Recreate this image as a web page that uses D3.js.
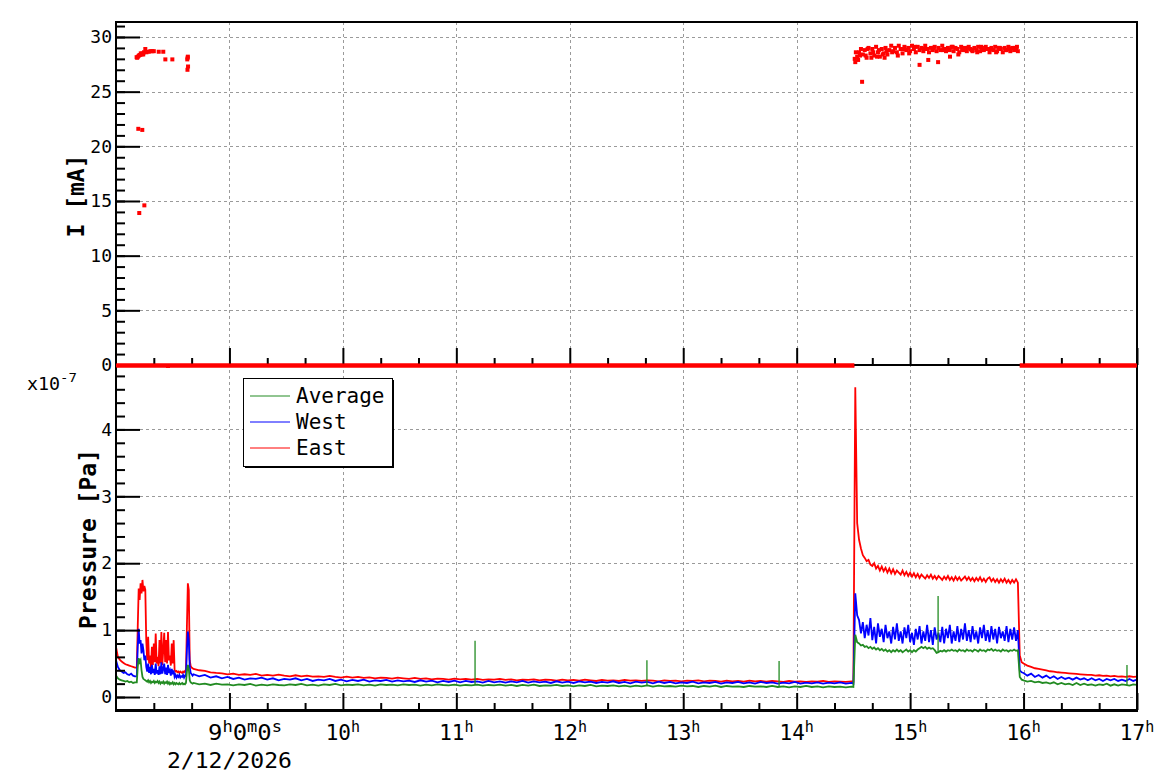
<!DOCTYPE html>
<html><head><meta charset="utf-8">
<script src="https://cdn.jsdelivr.net/npm/d3@7"></script>
<style>body{margin:0;background:#fff}svg{display:block}text{font-family:"DejaVu Sans Mono",monospace}</style>
</head><body><svg id="c" width="1158" height="782"></svg>
<script>
// ---------------- DATA ----------------
const dateLabel = "2/12/2026";
const hourTicks = [9, 10, 11, 12, 13, 14, 15, 16, 17];
const currentTicks = [0, 5, 10, 15, 20, 25, 30];
const pressureTicks = [0, 1, 2, 3, 4];
const seriesNames = ["Average", "West", "East"];

// sampling segments, minutes after 08:00 : start, step, count
const segStart = [0, 11, 41, 390, 480];
const segStep = [1, 0.5, 3, 1, 2];
const segCount = [11, 60, 117, 90, 31];

// pressures in units of 1e-7 Pa
const eastP = [
0.75,0.60,0.56,0.53,0.51,0.49,0.48,0.47,0.46,0.45,0.44,
0.44,1.05,1.62,1.45,1.70,1.55,1.75,1.58,1.66,1.60,
0.85,0.55,0.90,0.50,0.62,0.45,0.75,0.48,0.80,0.52,
0.95,0.50,0.60,0.46,0.85,0.50,0.97,0.48,0.70,0.96,
0.52,0.85,0.50,0.97,0.55,0.62,0.47,0.80,0.50,0.85,
0.40,0.38,0.39,0.37,0.38,0.36,0.38,0.37,0.36,0.38,
0.37,0.39,0.38,1.05,1.70,1.60,0.55,0.46,0.44,0.43,
0.42,0.40,0.39,0.37,0.36,0.355,0.34,0.35,0.33,0.34,
0.33,0.345,0.32,0.33,0.32,0.335,0.32,0.31,0.325,0.31,
0.32,0.305,0.31,0.30,0.315,0.30,0.29,0.305,0.29,0.30,
0.285,0.295,0.28,0.29,0.285,0.275,0.29,0.28,0.27,0.285,
0.27,0.28,0.265,0.275,0.27,0.26,0.275,0.265,0.27,0.26,
0.27,0.255,0.265,0.26,0.27,0.255,0.265,0.25,0.26,0.255,
0.265,0.25,0.26,0.255,0.245,0.26,0.25,0.255,0.245,0.26,
0.25,0.24,0.255,0.245,0.25,0.24,0.255,0.245,0.25,0.24,
0.25,0.245,0.235,0.25,0.24,0.245,0.235,0.245,0.24,0.25,
0.235,0.245,0.24,0.23,0.245,0.235,0.24,0.23,0.245,0.235,
0.24,0.23,0.24,0.235,0.225,0.24,0.23,0.235,0.225,0.235,
0.23,0.24,0.225,0.235,0.23,0.225,0.235,
0.23,4.63,2.60,2.35,2.22,2.12,2.08,2.03,2.05,1.98,
1.96,2.00,1.92,1.96,1.89,1.95,1.88,1.93,1.86,1.92,
1.85,1.91,1.84,1.89,1.86,1.83,1.89,1.82,1.87,1.81,
1.86,1.80,1.85,1.79,1.84,1.78,1.83,1.80,1.77,1.82,
1.78,1.83,1.77,1.81,1.76,1.81,1.78,1.75,1.80,1.76,
1.81,1.75,1.79,1.74,1.80,1.75,1.79,1.74,1.77,1.80,
1.75,1.79,1.74,1.78,1.73,1.78,1.74,1.79,1.73,1.77,
1.72,1.77,1.79,1.73,1.77,1.72,1.76,1.71,1.76,1.72,
1.77,1.71,1.75,1.70,1.75,1.71,1.76,1.71,0.62,0.52,
0.50,0.47,0.45,0.43,0.42,0.41,0.40,0.385,0.38,0.37,
0.365,0.36,0.355,0.35,0.345,0.34,0.335,0.33,0.33,0.32,
0.325,0.315,0.32,0.31,0.315,0.305,0.31,0.30,0.31,0.30,0.305
];
const westP = [
0.55,0.45,0.40,0.38,0.36,0.37,0.34,0.33,0.35,0.32,0.31,
0.31,0.75,1.02,0.80,0.85,0.65,0.80,0.70,0.55,0.62,
0.45,0.38,0.50,0.36,0.45,0.34,0.48,0.36,0.42,0.33,
0.50,0.35,0.40,0.33,0.46,0.34,0.52,0.35,0.42,0.50,
0.34,0.44,0.33,0.48,0.36,0.40,0.32,0.42,0.34,0.40,
0.30,0.33,0.29,0.32,0.30,0.33,0.29,0.31,0.30,0.33,
0.29,0.32,0.31,0.70,0.98,0.85,0.45,0.36,0.34,0.32,
0.34,0.31,0.33,0.29,0.31,0.28,0.30,0.27,0.29,0.26,
0.28,0.27,0.29,0.26,0.28,0.25,0.27,0.26,0.28,0.25,
0.27,0.24,0.26,0.25,0.27,0.24,0.26,0.235,0.255,0.24,
0.26,0.23,0.25,0.24,0.255,0.23,0.25,0.235,0.245,0.225,
0.25,0.23,0.245,0.22,0.24,0.225,0.245,0.22,0.24,0.225,
0.235,0.215,0.24,0.22,0.235,0.215,0.235,0.22,0.24,0.215,
0.235,0.22,0.23,0.21,0.235,0.215,0.23,0.21,0.235,0.22,
0.23,0.21,0.225,0.215,0.235,0.21,0.225,0.205,0.23,0.215,
0.225,0.205,0.23,0.21,0.225,0.205,0.22,0.21,0.23,0.205,
0.22,0.21,0.225,0.20,0.22,0.21,0.225,0.205,0.22,0.20,
0.225,0.21,0.22,0.20,0.215,0.205,0.225,0.20,0.215,0.205,
0.22,0.20,0.215,0.205,0.22,0.20,0.21,
0.20,1.55,1.22,1.15,0.95,1.12,0.88,1.08,0.92,1.18,
0.85,1.05,0.80,1.10,0.90,1.02,0.82,1.08,0.88,0.98,
0.80,1.05,0.86,1.10,0.84,0.98,0.80,1.04,0.88,1.08,
0.82,0.96,0.78,1.02,0.86,1.06,0.80,0.98,0.84,1.08,
0.82,1.00,0.78,1.04,0.86,0.96,0.82,1.05,0.80,1.02,
0.88,1.08,0.80,0.98,0.84,1.06,0.82,1.02,0.86,1.10,
0.84,1.00,0.82,1.06,0.86,0.98,0.80,1.04,0.88,1.08,
0.84,1.00,0.82,1.06,0.86,1.02,0.80,1.05,0.88,0.98,
0.84,1.06,0.82,1.02,0.86,1.04,0.84,1.00,0.40,0.37,
0.36,0.32,0.35,0.30,0.33,0.29,0.32,0.28,0.31,0.27,
0.30,0.27,0.29,0.26,0.29,0.26,0.28,0.25,0.28,0.25,
0.27,0.24,0.27,0.25,0.27,0.24,0.26,0.24,0.27,0.24,0.26
];
const avgP = [
0.32,0.28,0.26,0.25,0.24,0.23,0.24,0.22,0.23,0.21,0.22,
0.22,0.45,0.58,0.52,0.55,0.40,0.30,0.27,0.26,0.25,
0.24,0.23,0.25,0.22,0.24,0.21,0.23,0.22,0.24,0.21,
0.23,0.22,0.24,0.21,0.23,0.20,0.22,0.21,0.23,0.20,
0.22,0.21,0.23,0.20,0.22,0.19,0.21,0.20,0.22,0.19,
0.21,0.19,0.21,0.20,0.19,0.21,0.19,0.20,0.21,0.19,
0.20,0.19,0.21,0.38,0.48,0.42,0.25,0.22,0.21,0.20,
0.21,0.19,0.20,0.18,0.20,0.185,0.19,0.175,0.19,0.18,
0.195,0.17,0.185,0.175,0.19,0.18,0.175,0.19,0.18,0.195,
0.175,0.185,0.17,0.19,0.18,0.195,0.175,0.185,0.18,0.19,
0.175,0.185,0.17,0.19,0.18,0.185,0.175,0.19,0.18,0.185,
0.17,0.185,0.175,0.19,0.18,0.175,0.185,0.17,0.18,0.175,
0.185,0.17,0.18,0.175,0.185,0.17,0.18,0.165,0.18,0.17,
0.185,0.165,0.175,0.17,0.18,0.165,0.175,0.16,0.175,0.165,
0.18,0.16,0.17,0.165,0.175,0.16,0.17,0.155,0.17,0.16,
0.175,0.155,0.17,0.16,0.165,0.155,0.17,0.16,0.165,0.15,
0.165,0.155,0.17,0.15,0.165,0.155,0.16,0.15,0.165,0.155,
0.16,0.15,0.165,0.15,0.16,0.145,0.16,0.15,0.165,0.15,
0.16,0.145,0.16,0.15,0.155,0.145,0.155,
0.15,0.93,0.82,0.80,0.77,0.78,0.75,0.76,0.73,0.75,
0.72,0.74,0.71,0.73,0.70,0.72,0.69,0.71,0.68,0.70,
0.67,0.70,0.68,0.71,0.68,0.70,0.67,0.69,0.71,0.68,
0.70,0.67,0.70,0.68,0.71,0.73,0.75,0.73,0.75,0.72,
0.74,0.72,0.73,0.70,0.66,0.67,0.69,0.68,0.70,0.68,
0.70,0.69,0.71,0.69,0.70,0.68,0.71,0.69,0.70,0.68,
0.71,0.69,0.70,0.68,0.71,0.70,0.68,0.71,0.69,0.70,
0.68,0.71,0.70,0.72,0.69,0.71,0.69,0.70,0.68,0.71,
0.69,0.70,0.68,0.70,0.69,0.71,0.69,0.70,0.30,0.26,
0.25,0.23,0.24,0.22,0.23,0.21,0.22,0.20,0.22,0.19,
0.21,0.19,0.20,0.18,0.21,0.18,0.20,0.18,0.19,0.17,
0.19,0.18,0.20,0.17,0.19,0.17,0.19,0.18,0.17,0.19,0.18
];
// single-sample spikes in the Average gauge: [minute, value]
const avgSpikes = [[189.9, 0.84], [280.8, 0.55], [350.7, 0.54], [434.8, 1.51], [534.7, 0.48]];

// beam current (mA)
const currentOnStart = 391; // one value per minute from here
const currentOnValues = [
27.7,28.2,28.6,28.9,28.4,28.8,28.1,29.0,28.5,28.9,
28.3,29.1,28.6,28.2,28.9,28.5,29.0,28.4,28.8,29.2,
28.7,29.0,28.6,29.2,28.9,28.5,29.1,28.8,29.0,28.7,
29.2,28.9,28.6,29.1,28.8,29.0,28.7,29.2,28.9,28.6,
29.0,28.8,29.1,28.7,29.0,28.8,29.2,28.9,28.7,29.0,
28.8,29.1,28.7,29.0,28.9,28.6,29.1,28.8,29.0,28.7,
29.1,28.9,28.7,29.0,28.8,29.1,28.7,29.0,28.8,29.1,
28.9,28.6,29.0,28.8,29.1,28.7,29.0,28.9,28.6,29.0,
28.8,29.1,28.7,29.0,28.8,28.9,28.7
];
const currentScatter = [
[10.9,28.15],[11.2,28.1],[11.8,21.6],[12.3,13.9],[11.6,28.2],[12.1,28.3],[12.6,28.35],
[13.1,28.5],[13.5,28.4],[13.9,21.5],[13.9,28.5],[14.4,28.4],[14.8,28.6],[15.0,14.6],
[15.5,28.9],[16.1,28.6],[17.3,28.65],[18.2,28.7],[19.2,28.7],[20.0,28.7],[22.6,28.65],
[25.0,28.65],[26.1,27.95],[29.8,27.95],[37.7,27.95],[37.8,27.0],[37.9,28.1],[38.0,28.2],
[38.1,27.3],[27.5,-0.2],
[390.7,28.0],[391.3,28.6],[392.5,27.9],[393.5,28.3],[394.6,25.9],[396.5,28.3],[397.5,28.9],
[399.5,28.1],[400.5,28.6],[402.5,28.2],[403.5,28.8],[405.5,28.4],[406.5,28.1],[407.5,28.7],
[410.5,28.6],[413.5,28.3],[416.5,28.9],[419.5,28.5],[425.0,27.45],[429.6,27.9],[434.8,27.7],
[441.1,28.2],[445.5,28.4],[450.5,29.0],[455.5,28.6],[460.5,28.9],[465.5,28.6],[470.5,28.8],[475.5,29.0],
[422.5,29.1],[427.5,28.9],[432.5,29.0],[437.5,28.8],[442.5,29.1],[447.5,28.9],[452.5,28.8],
[457.5,29.1],[462.5,28.9],[467.5,29.0],[472.5,28.9],[476.5,29.1]
];
// intervals (minutes) where the current read 0 mA
const currentOff = [[0, 390.5], [478, 540]];

// ---------------- CHART ----------------
const W = 1158, H = 782;
const L = 116, R = 1137, T1 = 22, B1 = 365, T2 = 365, B2 = 710;
const colors = {Average: "#228b22", West: "#0000ff", East: "#ff0000"};
const t0 = Date.UTC(2026, 1, 12, 8, 0, 0);
const toDate = m => new Date(t0 + m * 60000);

const x = d3.scaleUtc().domain([toDate(0), toDate(540)]).range([L, R]);
const yI = d3.scaleLinear().domain([0, 31.37]).range([B1, T1]);
const yP = d3.scaleLinear().domain([-0.194, 4.963]).range([B2, T2]);

// sample times
const times = [];
segStart.forEach((s, i) => { for (let k = 0; k < segCount[i]; k++) times.push(s + k * segStep[i]); });

const svg = d3.select("#c");
svg.append("rect").attr("width", W).attr("height", H).attr("fill", "#fff");

const defs = svg.append("defs");
defs.append("clipPath").attr("id", "clipTop").append("rect").attr("x", L).attr("y", T1).attr("width", R - L).attr("height", B1 - T1 + 3);
defs.append("clipPath").attr("id", "clipBot").append("rect").attr("x", L).attr("y", T2).attr("width", R - L).attr("height", B2 - T2);

const hourDates = hourTicks.map(h => toDate((h - 8) * 60));
const minorDates = d3.utcMinute.every(20).range(toDate(0), toDate(541)).filter(d => d.getUTCMinutes() !== 0);

// ---- grids
const grid = svg.append("g").attr("stroke", "#9a9a9a").attr("stroke-width", 1).attr("stroke-dasharray", "3,3").attr("fill", "none");
hourDates.filter(d => x(d) < R - 1).forEach(d => {
  grid.append("line").attr("x1", Math.round(x(d)) + 0.5).attr("x2", Math.round(x(d)) + 0.5).attr("y1", T1).attr("y2", B2);
});
currentTicks.filter(v => v > 0).forEach(v => {
  grid.append("line").attr("x1", L).attr("x2", R).attr("y1", Math.round(yI(v)) + 0.5).attr("y2", Math.round(yI(v)) + 0.5);
});
pressureTicks.forEach(v => {
  grid.append("line").attr("x1", L).attr("x2", R).attr("y1", Math.round(yP(v)) + 0.5).attr("y2", Math.round(yP(v)) + 0.5);
});

// ---- pressure series
const gp = svg.append("g").attr("clip-path", "url(#clipBot)");
const line = d3.line().x(d => x(toDate(d[0]))).y(d => yP(d[1]));
const series = {Average: avgP, West: westP, East: eastP};
["East", "West", "Average"].forEach(name => {
  const pts = times.map((t, i) => [t, series[name][i]]);
  gp.append("path").attr("d", line(pts)).attr("fill", "none")
    .attr("stroke", colors[name]).attr("stroke-width", 1.8).attr("stroke-linejoin", "miter");
});
avgSpikes.forEach(([t, v]) => {
  const i = d3.minIndex(times, tt => Math.abs(tt - t));
  gp.append("line").attr("x1", x(toDate(t))).attr("x2", x(toDate(t)))
    .attr("y1", yP(avgP[i])).attr("y2", yP(v)).attr("stroke", colors.Average).attr("stroke-width", 1.3);
});

// ---- current
const gc = svg.append("g").attr("clip-path", "url(#clipTop)");
currentOff.forEach(([a, b]) => {
  gc.append("line").attr("x1", x(toDate(a))).attr("x2", x(toDate(b)))
    .attr("y1", yI(0) + 0.5).attr("y2", yI(0) + 0.5).attr("stroke", "#ff0000").attr("stroke-width", 4);
});
const curPts = currentScatter.concat(currentOnValues.map((v, i) => [currentOnStart + i, v]));
gc.selectAll("rect.pt").data(curPts).join("rect").attr("class", "pt")
  .attr("x", d => x(toDate(d[0])) - 2).attr("y", d => yI(d[1]) - 2)
  .attr("width", 4).attr("height", 4).attr("fill", "#ff0000");

// ---- axes
const axG = svg.append("g");
function styleAxis(g) { g.select(".domain").remove(); g.selectAll("line").attr("stroke", "#000").attr("stroke-width", 2); }

// top panel y
axG.append("g").attr("transform", `translate(${L},0)`)
  .call(d3.axisLeft(yI).tickValues(d3.range(0, 32, 1)).tickSize(-9).tickFormat("")).call(styleAxis);
axG.append("g").attr("transform", `translate(${L},0)`)
  .call(d3.axisLeft(yI).tickValues(currentTicks).tickSize(-24).tickPadding(4).tickFormat(d3.format("d")))
  .call(styleAxis).call(g => g.selectAll("text").attr("font-size", 18).attr("fill", "#000"));

// bottom panel y
axG.append("g").attr("transform", `translate(${L},0)`)
  .call(d3.axisLeft(yP).tickValues(d3.range(-0.0, 5.0, 0.2)).tickSize(-9).tickFormat("")).call(styleAxis);
axG.append("g").attr("transform", `translate(${L},0)`)
  .call(d3.axisLeft(yP).tickValues(pressureTicks).tickSize(-24).tickPadding(4).tickFormat(d3.format("d")))
  .call(styleAxis).call(g => g.selectAll("text").attr("font-size", 18).attr("fill", "#000"));

// x axes (top panel at y=B1, bottom panel at y=B2), ticks pointing up
[B1, B2].forEach(yy => {
  axG.append("g").attr("transform", `translate(0,${yy})`)
    .call(d3.axisBottom(x).tickValues(minorDates).tickSize(-7).tickFormat("")).call(styleAxis);
  axG.append("g").attr("transform", `translate(0,${yy})`)
    .call(d3.axisBottom(x).tickValues(hourDates).tickSize(-17).tickFormat("")).call(styleAxis);
});

// frame
const fr = svg.append("g").attr("stroke", "#000").attr("stroke-width", 2).attr("fill", "none");
fr.append("line").attr("x1", L).attr("x2", L).attr("y1", T1 - 1).attr("y2", B2 + 1);
fr.append("line").attr("x1", R).attr("x2", R).attr("y1", T1 - 1).attr("y2", B2 + 1);
fr.append("line").attr("x1", L - 1).attr("x2", R + 1).attr("y1", T1).attr("y2", T1);
fr.append("line").attr("x1", L - 1).attr("x2", R + 1).attr("y1", B1).attr("y2", B1);
fr.append("line").attr("x1", L - 1).attr("x2", R + 1).attr("y1", B2 + 0.5).attr("y2", B2 + 0.5).attr("stroke-width", 3);
// redraw zero-current segments on top of the shared axis line
currentOff.forEach(([a, b]) => {
  svg.append("line").attr("x1", x(toDate(a))).attr("x2", x(toDate(b)))
    .attr("y1", yI(0) + 0.5).attr("y2", yI(0) + 0.5).attr("stroke", "#ff0000").attr("stroke-width", 4);
});

// x labels
const lab = svg.append("g").attr("fill", "#000");
hourTicks.forEach((h, i) => {
  const xx = x(hourDates[i]);
  if (h === 9) {
    const t = lab.append("text").attr("x", 208).attr("y", 740).attr("font-size", 21)
      .attr("textLength", 74).attr("lengthAdjust", "spacingAndGlyphs");
    [["9", false], ["h", true], ["0", false], ["m", true], ["0", false], ["s", true]].forEach(([s, sup]) => {
      t.append("tspan").text(s).attr("font-size", sup ? 15 : 21).attr("dy", sup ? -8 : 8 * (s === "9" ? 0 : 1));
    });
  } else {
    const t = lab.append("text").attr("x", xx).attr("y", 740).attr("font-size", 21).attr("text-anchor", "middle");
    t.append("tspan").text(String(h));
    t.append("tspan").text("h").attr("font-size", 15).attr("dy", -8);
  }
});
lab.append("text").attr("x", x(hourDates[0])).attr("y", 768).attr("font-size", 21).attr("text-anchor", "middle")
  .attr("textLength", 125).attr("lengthAdjust", "spacingAndGlyphs").text(dateLabel);

// exponent label
const ex = lab.append("text").attr("x", 27).attr("y", 390).attr("font-size", 17)
  .attr("textLength", 50).attr("lengthAdjust", "spacingAndGlyphs");
ex.append("tspan").text("x10");
ex.append("tspan").text("-7").attr("font-size", 13).attr("dy", -8);

// axis titles
lab.append("text").attr("transform", "translate(76,196) rotate(-90)").attr("text-anchor", "middle")
  .attr("dominant-baseline", "central").attr("font-size", 23).attr("font-weight", "bold").text("I [mA]");
lab.append("text").attr("transform", "translate(88,539) rotate(-90)").attr("text-anchor", "middle")
  .attr("dominant-baseline", "central").attr("font-size", 23).attr("font-weight", "bold").text("Pressure [Pa]");

// legend
const lg = svg.append("g");
lg.append("rect").attr("x", 245).attr("y", 380).attr("width", 149).attr("height", 88).attr("fill", "#000");
lg.append("rect").attr("x", 243.5).attr("y", 378.5).attr("width", 149).attr("height", 88).attr("fill", "#fff").attr("stroke", "#000").attr("stroke-width", 1);
seriesNames.forEach((n, i) => {
  const yy = 396 + i * 26;
  lg.append("line").attr("x1", 250).attr("x2", 290).attr("y1", yy).attr("y2", yy).attr("stroke", colors[n]).attr("stroke-width", 1);
  lg.append("text").attr("x", 296).attr("y", yy).attr("dominant-baseline", "central").attr("font-size", 21).attr("fill", "#000").text(n);
});
</script></body></html>
